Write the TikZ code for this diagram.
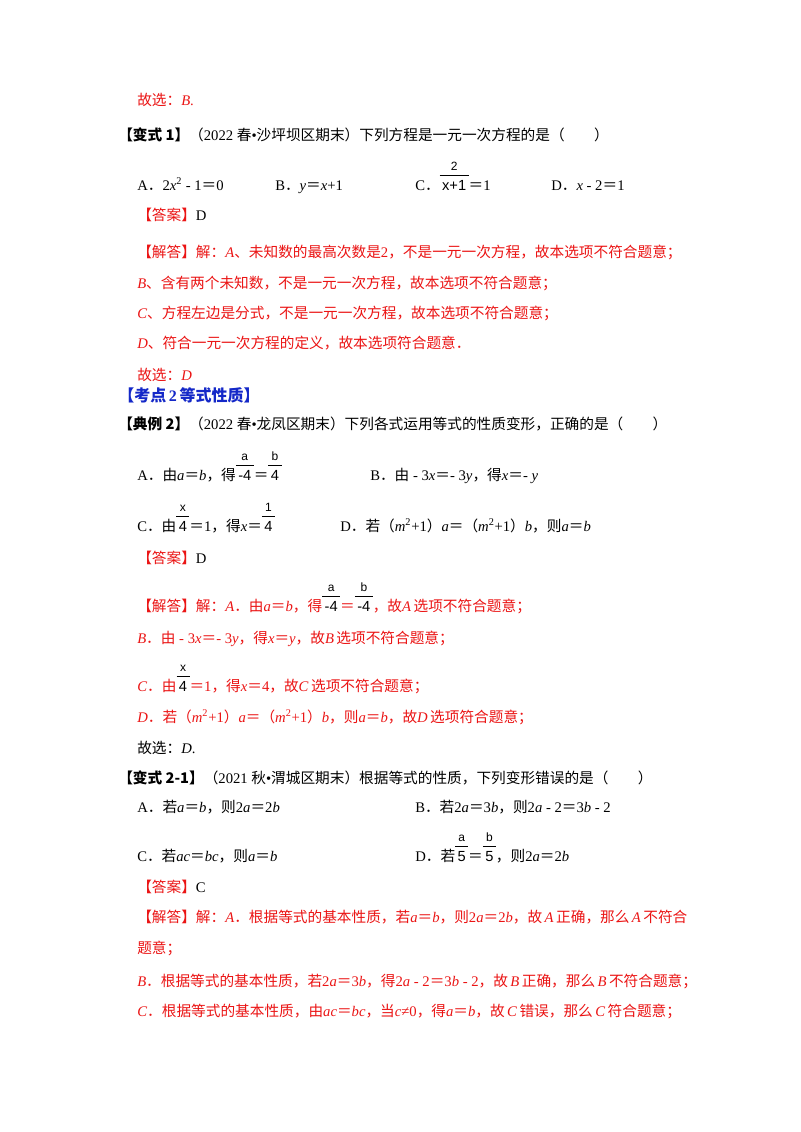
\documentclass[tikz,border=0pt]{standalone}
\usepackage{fontspec}
\setmainfont{Liberation Serif}
\newfontfamily\cjk{Noto Sans CJK SC}
\newfontfamily\fsans{Liberation Sans}
\definecolor{rd}{RGB}{235,20,20}
\definecolor{bl}{RGB}{20,40,200}
\newcommand\fr[2]{{\fsans\begin{tabular}[b]{@{\,}c@{\,}}\small #1\\[-1pt]\hline\rule{0pt}{11pt}#2\end{tabular}}}
\newcommand\C[1]{{\cjk #1}}
\newcommand\eq{\C{＝}}
\begin{document}
\begin{tikzpicture}[x=0.75pt,y=-0.75pt,
  t/.style={anchor=base west,inner sep=0pt,font=\fontsize{11}{13}\selectfont},
  r/.style={t,text=rd}]
\useasboundingbox (0,0) rectangle (800,1132);
\fill[white] (0,0) rectangle (800,1132);
\node[r] (l1) at (137,105) {\C{故选：}\textit{B}.};
\node[t] (l2) at (118,140) {\C{\bfseries【变式 1】}\C{（}2022 \C{春}•\C{沙坪坝区期末）下列方程是一元一次方程的是（\quad\quad）}};
\node[t] (a1) at (137,190) {A\C{．}2\textit{x}\textsuperscript{2} - 1\eq 0};
\node[t] (b1) at (275,190) {B\C{．}\textit{y}\eq\textit{x}+1};
\node[t] (c1) at (415,190) {C\C{．}\fr{2}{x+1}\eq 1};
\node[t] (d1) at (551,190) {D\C{．}\textit{x} - 2\eq 1};
\node[t] (an1) at (137,220) {\textcolor{rd}{\C{【答案】}}D};
\node[r] (s1) at (137,257) {\C{【解答】解：}\textit{A}\C{、未知数的最高次数是}2\C{，不是一元一次方程，故本选项不符合题意；}};
\node[r] (s2) at (137,288) {\textit{B}\C{、含有两个未知数，不是一元一次方程，故本选项不符合题意；}};
\node[r] (s3) at (137,318) {\textit{C}\C{、方程左边是分式，不是一元一次方程，故本选项不符合题意；}};
\node[r] (s4) at (137,348) {\textit{D}\C{、符合一元一次方程的定义，故本选项符合题意．}};
\node[r] (s5) at (137,380) {\C{故选：}\textit{D}};
\node[t,text=bl,font=\fontsize{12}{14}\selectfont\bfseries] (k2) at (118,401) {\C{\bfseries【考点}\,2\,\C{\bfseries 等式性质】}};
\node[t] (l3) at (118,429) {\C{\bfseries【典例 2】}\C{（}2022 \C{春}•\C{龙凤区期末）下列各式运用等式的性质变形，正确的是（\quad\quad）}};
\node[t] (a2) at (137,480) {A\C{．由}\textit{a}\eq\textit{b}\C{，得}\fr{a}{-4}\eq\fr{b}{4}};
\node[t] (b2) at (370,480) {B\C{．由} - 3\textit{x}\eq - 3\textit{y}\C{，得}\textit{x}\eq - \textit{y}};
\node[t] (c2) at (137,531) {C\C{．由}\fr{x}{4}\eq 1\C{，得}\textit{x}\eq\fr{1}{4}};
\node[t] (d2) at (340,531) {D\C{．若（}\textit{m}\textsuperscript{2}+1\C{）}\textit{a}\eq\C{（}\textit{m}\textsuperscript{2}+1\C{）}\textit{b}\C{，则}\textit{a}\eq\textit{b}};
\node[t] (an2) at (137,563) {\textcolor{rd}{\C{【答案】}}D};
\node[r] (s6) at (137,611) {\C{【解答】解：}\textit{A}\C{．由}\textit{a}\eq\textit{b}\C{，得}\textcolor{black}{\fr{a}{-4}}\eq\textcolor{black}{\fr{b}{-4}}\C{，故}\textit{A}\,\C{选项不符合题意；}};
\node[r] (s7) at (137,643) {\textit{B}\C{．由} - 3\textit{x}\eq - 3\textit{y}\C{，得}\textit{x}\eq\textit{y}\C{，故}\textit{B}\,\C{选项不符合题意；}};
\node[r] (s8) at (137,691) {\textit{C}\C{．由}\textcolor{black}{\fr{x}{4}}\eq 1\C{，得}\textit{x}\eq 4\C{，故}\textit{C}\,\C{选项不符合题意；}};
\node[r] (s9) at (137,722) {\textit{D}\C{．若（}\textit{m}\textsuperscript{2}+1\C{）}\textit{a}\eq\C{（}\textit{m}\textsuperscript{2}+1\C{）}\textit{b}\C{，则}\textit{a}\eq\textit{b}\C{，故}\textit{D}\,\C{选项符合题意；}};
\node[t] (s10) at (137,753) {\C{故选：}\textit{D}.};
\node[t] (l4) at (118,783) {\C{\bfseries【变式 2-1】}\C{（}2021 \C{秋}•\C{渭城区期末）根据等式的性质，下列变形错误的是（\quad\quad）}};
\node[t] (a3) at (137,812) {A\C{．若}\textit{a}\eq\textit{b}\C{，则}2\textit{a}\eq 2\textit{b}};
\node[t] (b3) at (415,812) {B\C{．若}2\textit{a}\eq 3\textit{b}\C{，则}2\textit{a} - 2\eq 3\textit{b} - 2};
\node[t] (c3) at (137,861) {C\C{．若}\textit{ac}\eq\textit{bc}\C{，则}\textit{a}\eq\textit{b}};
\node[t] (d3) at (415,861) {D\C{．若}\fr{a}{5}\eq\fr{b}{5}\C{，则}2\textit{a}\eq 2\textit{b}};
\node[t] (an3) at (137,892) {\textcolor{rd}{\C{【答案】}}C};
\node[r] (s11) at (137,922) {\C{【解答】解：}\textit{A}\C{．根据等式的基本性质，若}\textit{a}\eq\textit{b}\C{，则}2\textit{a}\eq 2\textit{b}\C{，故}\,\textit{A}\,\C{正确，那么}\,\textit{A}\,\C{不符合}};
\node[r] (s12) at (137,953) {\C{题意；}};
\node[r] (s13) at (137,986) {\textit{B}\C{．根据等式的基本性质，若}2\textit{a}\eq 3\textit{b}\C{，得}2\textit{a} - 2\eq 3\textit{b} - 2\C{，故}\,\textit{B}\,\C{正确，那么}\,\textit{B}\,\C{不符合题意；}};
\node[r] (s14) at (137,1016) {\textit{C}\C{．根据等式的基本性质，由}\textit{ac}\eq\textit{bc}\C{，当}\textit{c}≠0\C{，得}\textit{a}\eq\textit{b}\C{，故}\,\textit{C}\,\C{错误，那么}\,\textit{C}\,\C{符合题意；}};
\end{tikzpicture}
\end{document}
